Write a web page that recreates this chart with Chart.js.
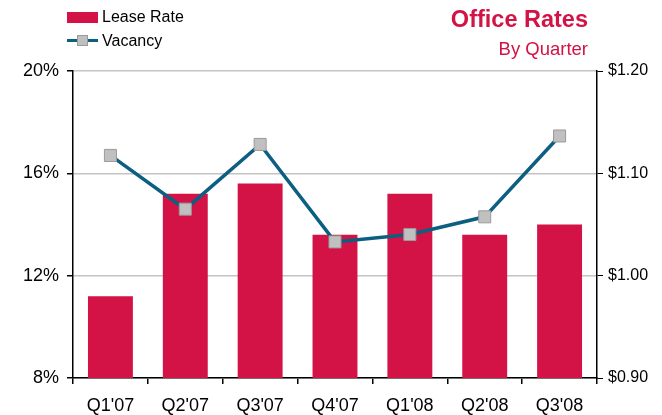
<!DOCTYPE html>
<html>
<head>
<meta charset="utf-8">
<script src="https://cdn.jsdelivr.net/npm/chart.js@4.4.1/dist/chart.umd.min.js"></script>
<style>
  html, body { margin: 0; padding: 0; background: #fff; }
  #wrap { position: relative; width: 662px; height: 415px; font-family: 'Liberation Sans', Arial, sans-serif; }
  #chart { position: absolute; left: 0; top: 0; }
  .legend { position: absolute; left: 67px; font-size: 16px; color: #000; display: flex; align-items: center; }
  .swatch-bar { width: 31px; height: 11px; background: #d31245; margin-right: 4px; }
  .swatch-line { position: relative; width: 31px; height: 12px; margin-right: 4px; }
  .swatch-line .ln { position: absolute; left: 0; right: 0; top: 4px; height: 3px; background: #0d5f82; }
  .swatch-line .mk { position: absolute; left: 10px; top: 0; width: 11px; height: 11px; background: #c0c0c0; border: 1px solid #9a9a9a; box-sizing: border-box; }
  .title { position: absolute; right: 74px; text-align: right; color: #d31245; }
</style>
</head>
<body>
<div id="wrap">
  <canvas id="chart" width="662" height="415"></canvas>
  <div class="legend" style="top:8px"><span class="swatch-bar"></span>Lease Rate</div>
  <div class="legend" style="top:32px"><span class="swatch-line"><span class="ln"></span><span class="mk"></span></span>Vacancy</div>
  <div class="title" style="top:6px; font-size:23.5px; font-weight:bold;">Office Rates</div>
  <div class="title" style="top:38px; font-size:18.5px;">By Quarter</div>
</div>
<script>
  // 数据
  const quarters = ["Q1'07", "Q2'07", "Q3'07", "Q4'07", "Q1'08", "Q2'08", "Q3'08"];
  const leaseRate = [0.98, 1.08, 1.09, 1.04, 1.08, 1.04, 1.05];
  const vacancy = [16.7, 14.6, 17.13, 13.32, 13.61, 14.3, 17.46];
  const pctTicks = [8, 12, 16, 20];
  const dollarTicks = [0.9, 1.0, 1.1, 1.2];

  const FONT = "'Liberation Sans', Arial, sans-serif";

  const ctx = document.getElementById('chart').getContext('2d');
  new Chart(ctx, {
    data: {
      labels: quarters,
      datasets: [
        {
          type: 'line',
          label: 'Vacancy',
          data: vacancy,
          yAxisID: 'yPct',
          borderColor: '#0d5f82',
          borderWidth: 3.5,
          tension: 0,
          pointStyle: 'rect',
          pointRadius: 8.5,
          pointBackgroundColor: '#c0c0c0',
          pointBorderColor: '#9a9a9a',
          pointBorderWidth: 1,
          order: 0
        },
        {
          type: 'bar',
          label: 'Lease Rate',
          data: leaseRate,
          yAxisID: 'yUsd',
          backgroundColor: '#d31245',
          categoryPercentage: 1,
          barPercentage: 0.6,
          order: 1
        }
      ]
    },
    options: {
      responsive: false,
      animation: false,
      layout: { padding: { top: 71, bottom: 0, left: 0, right: 0 } },
      plugins: {
        legend: { display: false },
        tooltip: { enabled: false }
      },
      scales: {
        x: {
          offset: true,
          grid: {
            offset: true,
            drawOnChartArea: false,
            color: '#000',
            tickColor: '#000',
            tickLength: 6,
            lineWidth: 1.5
          },
          border: { color: '#000', width: 1.5 },
          ticks: { color: '#000', font: { family: FONT, size: 18 }, padding: 11, maxRotation: 0 },
          afterFit: function (axis) { axis.height = 37; }
        },
        yPct: {
          position: 'left',
          min: 8,
          max: 20,
          afterBuildTicks: function (axis) {
            axis.ticks = pctTicks.map(function (v) { return { value: v }; });
          },
          grid: { color: '#c4c4c4', lineWidth: 1.5, tickColor: '#000', tickLength: 6 },
          border: { color: '#000', width: 1.5 },
          ticks: {
            color: '#000',
            font: { family: FONT, size: 18 },
            padding: 8,
            callback: function (v) { return v + '%'; }
          },
          afterFit: function (axis) { axis.width = 73; }
        },
        yUsd: {
          position: 'right',
          min: 0.9,
          max: 1.2,
          afterBuildTicks: function (axis) {
            axis.ticks = dollarTicks.map(function (v) { return { value: v }; });
          },
          grid: { drawOnChartArea: false, tickColor: '#000', tickLength: 6 },
          border: { color: '#000', width: 1.5 },
          ticks: {
            color: '#000',
            font: { family: FONT, size: 16 },
            padding: 5,
            callback: function (v) { return '$' + v.toFixed(2); }
          },
          afterFit: function (axis) { axis.width = 65; }
        }
      }
    }
  });
</script>
</body>
</html>
